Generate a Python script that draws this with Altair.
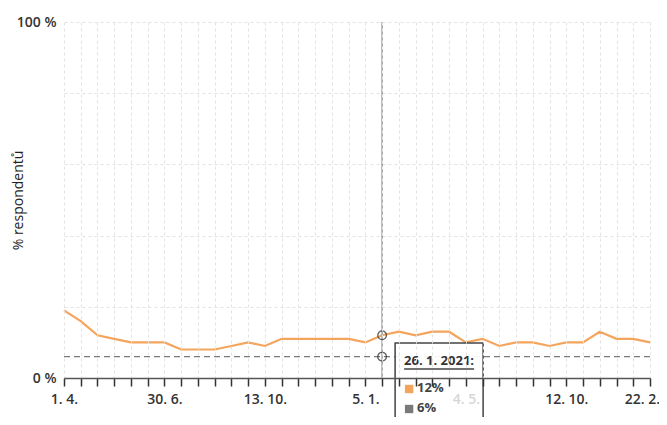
import altair as alt
import pandas as pd

# ---- data ----
point_index = list(range(36))
share_yes = [19, 16, 12, 11, 10, 10, 10, 8, 8, 8, 9, 10, 9, 11, 11, 11, 11, 11,
             10, 12, 13, 12, 13, 13, 10, 11, 9, 10, 10, 9, 10, 10, 13, 11, 11, 10]
share_ref = [6] * 36
tick_positions = [0, 6, 12, 18, 24, 30, 35]
tick_labels = ["1. 4.", "30. 6.", "13. 10.", "5. 1.", "4. 5.", "12. 10.", "22. 2."]
y_ticks = [0, 20, 40, 60, 80, 100]
hover_index = 19
hover_date = "26. 1. 2021:"

ORANGE = "#F5A55B"
GRAY = "#7a7a7a"
FONT = "Open Sans"

df = pd.DataFrame({"idx": point_index, "yes": share_yes, "ref": share_ref})

label_expr = " : ".join(
    f"datum.value == {p} ? '{l}'" for p, l in zip(tick_positions, tick_labels)
) + " : ''"

x_enc = alt.X(
    "idx:Q",
    scale=alt.Scale(domain=[0, 35], nice=False, zero=False),
    axis=alt.Axis(
        values=point_index, tickCount=len(point_index), labelExpr=label_expr, title=None,
        grid=True, gridColor="#e2e2e2", gridDash=[3, 3], gridWidth=1,
        domainColor="#555", domainWidth=1.5,
        tickColor="#333", tickSize=8, tickWidth=1.5,
        labelPadding=6, labelFlush=False, labelOverlap=False,
        labelOffset=alt.condition(f"datum.value == {point_index[-1]}", alt.value(-8), alt.value(0)),
        labelFont=FONT, labelFontSize=14, labelFontWeight=600,
        labelColor=alt.condition("datum.value == 24", alt.value("#d6d6d6"), alt.value("#333")),
        zindex=1,
    ),
)
y_scale = alt.Scale(domain=[0, 100], nice=False)
y_axis = alt.Axis(
    values=y_ticks, tickCount=len(y_ticks),
    labelExpr="datum.value == 0 ? '0 %' : datum.value == 100 ? '100 %' : ''",
    grid=True, gridColor="#e2e2e2", gridDash=[3, 3], gridWidth=1,
    domain=False, ticks=False, labelPadding=8,
    labelFont=FONT, labelFontSize=14, labelFontWeight=600, labelColor="#333",
    title="% respondentů", titleFont=FONT, titleFontSize=14, titleFontWeight="normal",
    titleColor="#222", titleX=-46, titleY=178, titleBaseline="middle",
)

base = alt.Chart(df)

ref_line = base.mark_line(color=GRAY, strokeWidth=1.2, strokeDash=[6, 4]).encode(
    x=x_enc, y=alt.Y("ref:Q", scale=y_scale, axis=y_axis)
)
yes_line = base.mark_line(color=ORANGE, strokeWidth=2.2).encode(
    x="idx:Q", y="yes:Q"
)

hover_df = df[df["idx"] == hover_index]
hover_yes = int(hover_df["yes"].iloc[0])
hover_ref = int(hover_df["ref"].iloc[0])

crosshair = alt.Chart(hover_df).mark_rule(color="#9a9a9a", strokeWidth=1.5).encode(
    x="idx:Q", y=alt.datum(0), y2=alt.datum(100)
)
dot_yes = alt.Chart(hover_df).mark_point(
    shape="circle", filled=False, size=75, color="#222", strokeWidth=1.3
).encode(x="idx:Q", y="yes:Q")
dot_ref = alt.Chart(hover_df).mark_point(
    shape="circle", filled=False, size=75, color="#222", strokeWidth=1.3
).encode(x="idx:Q", y="ref:Q")

tip_box = alt.Chart(hover_df).mark_rect(
    fill="white", fillOpacity=0.92, stroke="#444", strokeWidth=1.5,
    xOffset=13, x2Offset=101, yOffset=-35, y2Offset=70,
).encode(x="idx:Q", x2="idx:Q", y=alt.datum(0), y2=alt.datum(0))

tip_title = alt.Chart(hover_df).mark_text(
    text=hover_date, font=FONT, fontSize=13, fontWeight="bold", color="#333",
    align="left", baseline="middle", dx=22, dy=-17,
).encode(x="idx:Q", y=alt.datum(0))
tip_underline = alt.Chart(hover_df).mark_rule(
    color="#444", strokeWidth=1.5, xOffset=22, x2Offset=92, yOffset=-9, y2Offset=-9,
).encode(x="idx:Q", x2="idx:Q", y=alt.datum(0))

sq_yes = alt.Chart(hover_df).mark_square(
    color=ORANGE, size=70, opacity=1, xOffset=27, yOffset=11,
).encode(x="idx:Q", y=alt.datum(0))
sq_ref = alt.Chart(hover_df).mark_square(
    color=GRAY, size=70, opacity=1, xOffset=27, yOffset=31,
).encode(x="idx:Q", y=alt.datum(0))
txt_yes = alt.Chart(hover_df).mark_text(
    text=f"{hover_yes}%", font=FONT, fontSize=13, fontWeight="bold", color="#444",
    align="left", baseline="middle", dx=35, dy=10,
).encode(x="idx:Q", y=alt.datum(0))
txt_ref = alt.Chart(hover_df).mark_text(
    text=f"{hover_ref}%", font=FONT, fontSize=13, fontWeight="bold", color="#444",
    align="left", baseline="middle", dx=35, dy=30,
).encode(x="idx:Q", y=alt.datum(0))

chart = alt.layer(
    ref_line, yes_line, crosshair, dot_yes, dot_ref,
    tip_box, tip_title, tip_underline, sq_yes, sq_ref, txt_yes, txt_ref,
).properties(
    width=586, height=356,
    autosize=alt.AutoSizeParams(type="none"),
    padding={"left": 56, "top": 14, "right": 9, "bottom": 39},
).configure_view(stroke=None)

chart.save("out.html", embed_options={"renderer": "svg", "actions": False})
